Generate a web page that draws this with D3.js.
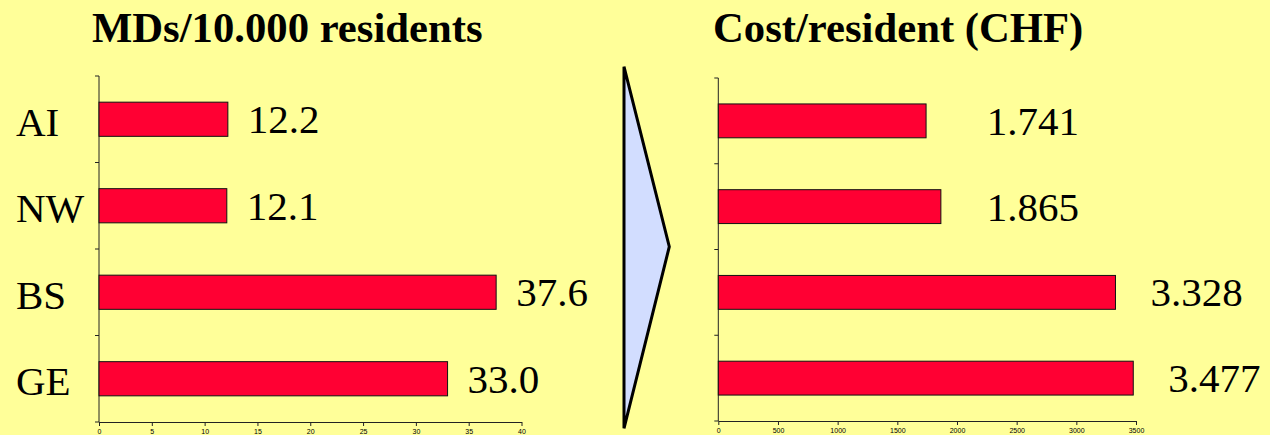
<!DOCTYPE html>
<html>
<head>
<meta charset="utf-8">
<script src="https://cdn.jsdelivr.net/npm/d3@7"></script>
<style>
  html, body { margin: 0; padding: 0; background: #ffff99; overflow: hidden; }
  svg { display: block; }
  .title { font-family: "Liberation Serif", "Times New Roman", serif; font-weight: bold; font-size: 42.7px; }
  .cat, .val { font-family: "Liberation Serif", "Times New Roman", serif; font-size: 41px; fill: #000; }
  .tick text { font-family: "Liberation Sans", Arial, sans-serif; font-size: 7px; fill: #000; }
</style>
</head>
<body>
<script>
// data
var regions = ["AI", "NW", "BS", "GE"];
var doctors = [12.2, 12.1, 37.6, 33.0];      // MDs per 10.000 residents
var costs = [1741, 1865, 3328, 3477];        // cost per resident, CHF
var doctorTicks = [0, 5, 10, 15, 20, 25, 30, 35, 40];
var costTicks = [0, 500, 1000, 1500, 2000, 2500, 3000, 3500];

var width = 1270, height = 435;

var svg = d3.select("body").append("svg")
    .attr("width", width)
    .attr("height", height);

svg.append("rect")
    .attr("width", width)
    .attr("height", height)
    .attr("fill", "#ffff99");

var deFormat = d3.formatLocale({decimal: ",", thousands: ".", grouping: [3], currency: ["", ""]}).format(",d");

// draws one horizontal bar panel
function panel(opts) {
    var x = d3.scaleLinear()
        .domain([0, opts.max])
        .range([opts.left, opts.right]);

    var y = d3.scaleBand()
        .domain(regions)
        .range([opts.top, opts.bottom])
        .padding(0);

    var g = svg.append("g");

    // x axis
    var xAxis = g.append("g")
        .attr("transform", "translate(0," + opts.bottom + ")")
        .call(d3.axisBottom(x).tickValues(opts.ticks).tickFormat(d3.format("d"))
            .tickSizeInner(4).tickSizeOuter(0).tickPadding(3));
    xAxis.select(".domain").attr("stroke", "#222");
    xAxis.selectAll(".tick line").attr("stroke", "#222");

    // y axis: ticks at band boundaries
    var bounds = regions.map(function(r) { return y(r); }).concat([opts.bottom]);
    g.append("line")
        .attr("x1", opts.left).attr("x2", opts.left)
        .attr("y1", opts.top).attr("y2", opts.bottom)
        .attr("stroke", "#222");
    g.selectAll(".ytick")
        .data(bounds)
        .join("line")
        .attr("class", "ytick")
        .attr("x1", opts.left - 4).attr("x2", opts.left)
        .attr("y1", function(d) { return d; })
        .attr("y2", function(d) { return d; })
        .attr("stroke", "#222");

    var barH = y.bandwidth() * 0.395;

    g.selectAll(".bar")
        .data(opts.values)
        .join("rect")
        .attr("class", "bar")
        .attr("x", x(0))
        .attr("y", function(d, i) { return y(regions[i]) + (y.bandwidth() - barH) / 2; })
        .attr("width", function(d) { return x(d) - x(0); })
        .attr("height", barH)
        .attr("fill", "#ff0033")
        .attr("stroke", "#111")
        .attr("stroke-width", 1);

    g.selectAll(".val")
        .data(opts.values)
        .join("text")
        .attr("class", "val")
        .attr("x", function(d) { return opts.labelX(x, d); })
        .attr("y", function(d, i) { return y(regions[i]) + y.bandwidth() / 2; })
        .attr("dy", "0.34em")
        .text(opts.format);

    g.append("text")
        .attr("class", "title")
        .attr("x", opts.titleX)
        .attr("y", 42)
        .text(opts.title);

    return {x: x, y: y};
}

var left = panel({
    values: doctors, max: 40, ticks: doctorTicks,
    left: 99, right: 521.5, top: 76, bottom: 422,
    format: d3.format(".1f"),
    labelX: function(x, d) { return x(d) + 20; },
    title: "MDs/10.000 residents", titleX: 92
});

// category names
svg.selectAll(".cat")
    .data(regions)
    .join("text")
    .attr("class", "cat")
    .attr("x", 16)
    .attr("y", function(d) { return left.y(d) + left.y.bandwidth() / 2; })
    .attr("dy", "0.4em")
    .text(function(d) { return d; });

panel({
    values: costs, max: 3500, ticks: costTicks,
    left: 718.3, right: 1136, top: 78, bottom: 421,
    format: function(d) { return deFormat(d); },
    labelX: function(x, d) { return Math.max(x(d) + 35, x(2250)); },
    title: "Cost/resident (CHF)", titleX: 713
});

// arrow between the panels
var arrow = [[624, 66.7], [669.3, 246.7], [624, 428.3]];
svg.append("path")
    .attr("d", d3.line()(arrow) + "Z")
    .attr("fill", "#d2ddff")
    .attr("stroke", "#000")
    .attr("stroke-width", 3)
    .attr("stroke-linejoin", "miter");
</script>
</body>
</html>
